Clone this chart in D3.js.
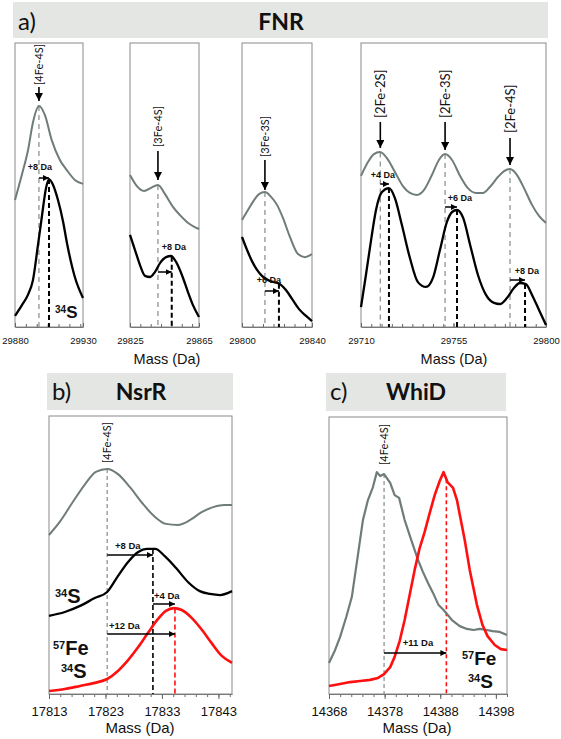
<!DOCTYPE html>
<html><head><meta charset="utf-8">
<script src="https://cdn.jsdelivr.net/npm/d3@7"></script>
<style>body{margin:0;background:#fff}svg{display:block}</style>
</head><body>
<svg id="chart" width="561" height="739"></svg>
<script>
// ================= DATA =================
// a) FNR, sub-panel 1
const fnr1Ticks = [29880, 29930];
const fnr1Gray = [[29880,44.7],[29885,53.5],[29889.6,62.3],[29893.2,72],[29897.6,77.8],[29902,74.6],[29907,65.8],[29913,58.8],[29918,55.3],[29924,51.8],[29930,50.4]];
const fnr1Black = [[29880,3.9],[29885.1,7.7],[29889.5,11.3],[29893.2,16.5],[29896.9,28.9],[29899.9,39.4],[29902.8,48.9],[29905,52.1],[29908,50],[29911.6,44.7],[29915.4,37],[29918.2,29.6],[29924,17.6],[29930,10.2]];
const fnr1Sites = ["[4Fe-4S]"];
const fnr1GrayPeaks = [29897.6];
const fnr1BlackPeaks = [29905];
const fnr1Shifts = ["+8 Da"];
// a) FNR, sub-panel 2
const fnr2Ticks = [29825, 29865];
const fnr2Gray = [[29825,53.5],[29829,49.6],[29833.1,47.9],[29837.2,49],[29841.2,50],[29845.3,46.8],[29849.9,42.3],[29854,39.4],[29858,37],[29865,34.5]];
const fnr2Black = [[29825,32.4],[29827.9,27.1],[29830.8,21.8],[29833.7,18],[29836.6,17.6],[29839.5,19.4],[29842.4,22.5],[29845.9,24.6],[29848.8,25],[29851.7,22.9],[29855.1,18.3],[29858.6,12.3],[29861.5,7.7],[29865,3.5]];
const fnr2Sites = ["[3Fe-4S]"];
const fnr2GrayPeaks = [29841.2];
const fnr2BlackPeaks = [29849.2];
const fnr2Shifts = ["+8 Da"];
// a) FNR, sub-panel 3
const fnr3Ticks = [29800, 29840];
const fnr3Gray = [[29800,37.7],[29803.4,41.2],[29806.9,44.7],[29809.7,46.8],[29813.1,47.5],[29816.6,45.8],[29820,43],[29823.4,38.4],[29827.4,31.7],[29832,25.7],[29836,24.6],[29840,25.7]];
const fnr3Black = [[29800,31.7],[29802.9,27.1],[29805.7,23.2],[29808.6,20.1],[29811.4,18],[29814.9,16.5],[29818.3,15.8],[29821.7,15.1],[29825.1,13],[29828.6,9.9],[29832.6,6.3],[29836.6,3.9],[29840,2.1]];
const fnr3Sites = ["[3Fe-3S]"];
const fnr3GrayPeaks = [29813.1];
const fnr3BlackPeaks = [29821.1];
const fnr3Shifts = ["+6 Da"];
// a) FNR, sub-panel 4
const fnr4Ticks = [29710, 29755, 29800];
const fnr4Gray = [[29710,53.2],[29713.4,58.1],[29716.3,60.9],[29719.2,61.6],[29722.6,59.5],[29726.5,54.6],[29730.4,49.6],[29733.8,47.2],[29737.2,46.5],[29740.6,48.2],[29744.5,53.5],[29747.9,58.8],[29750.9,60.9],[29754.3,58.8],[29758.2,53.2],[29762,48.9],[29765.9,47.2],[29769.3,47.2],[29772.7,49.3],[29776.6,52.8],[29779.6,54.9],[29782.5,55.6],[29785.9,53.5],[29789.3,48.9],[29793.2,43],[29796.6,39.1],[29800,36.6]];
const fnr4Black = [[29710,7],[29712.4,18.3],[29714.9,30.6],[29717.3,41.2],[29720.2,47.5],[29723.6,48.9],[29726.5,45.4],[29729.9,35.9],[29733.8,24.3],[29737.7,15.8],[29741.6,14.1],[29745,17.3],[29748.4,27.1],[29751.8,37],[29754.3,40.5],[29756.7,41.2],[29759.7,38.4],[29763.1,28.9],[29766.9,18.3],[29770.8,11.3],[29774.7,8.5],[29777.6,8.1],[29781,10.2],[29784.4,13.7],[29787.3,15.5],[29790.2,15.1],[29793.2,11.3],[29796.6,6],[29800,0.7]];
const fnr4Sites = ["[2Fe-2S]", "[2Fe-3S]", "[2Fe-4S]"];
const fnr4GrayPeaks = [29719.4, 29750.9, 29782.5];
const fnr4BlackPeaks = [29723.6, 29756.7, 29789.8];
const fnr4Shifts = ["+4 Da", "+6 Da", "+8 Da"];
// b) NsrR
const nsrTicks = [17813, 17823, 17833, 17843];
const nsrGray = [[17813,57.2],[17814.9,61.9],[17817.1,68.7],[17819.4,75.5],[17821.3,79.9],[17823.3,80.9],[17825.2,79.1],[17827.3,74.5],[17829.5,68.7],[17831.6,64],[17833.7,61.2],[17835.8,60.8],[17838,62.6],[17840.1,65.5],[17842.2,67.3],[17844,68],[17845.4,68]];
const nsrBlack = [[17813,28.1],[17815.8,29.5],[17818.5,31.7],[17821.1,34.5],[17823.3,36.7],[17825.2,42.4],[17827,47.5],[17828.8,51.1],[17830.3,52.2],[17831.8,52.2],[17833.5,49.6],[17835.5,45.3],[17837.6,40.3],[17839.7,37],[17841.5,36],[17843.3,35.6],[17845.4,37]];
const nsrRed = [[17813,1.1],[17815.8,1.8],[17818.5,2.9],[17821.1,4],[17823.3,5.4],[17825.2,8.3],[17827,12.2],[17828.8,16.9],[17830.5,21.9],[17832.3,27],[17833.7,29.9],[17835.1,30.9],[17836.5,30.2],[17838.3,27.3],[17840.1,23],[17841.8,18.3],[17843.6,13.7],[17845.4,11.2]];
const nsrSite = "[4Fe-4S]";
const nsrPeaks = [17823.3, 17831.4, 17835.3];
const nsrShifts = ["+8 Da", "+4 Da", "+12 Da"];
// c) WhiD
const whiTicks = [14368, 14378, 14388, 14398];
const whiGray = [[14368,11.2],[14369.1,15.9],[14370,20.6],[14371.1,27.8],[14372.1,35],[14373.2,50.2],[14374.1,62.8],[14375,70],[14375.9,74.7],[14376.6,80.1],[14377.2,78.7],[14377.9,79.4],[14379,76.2],[14379.8,71.8],[14380.6,70.8],[14381.6,62.8],[14382.9,54.9],[14384,48.4],[14384.9,44],[14385.8,40.1],[14386.7,36.5],[14387.7,32.1],[14388.6,30.3],[14390.1,26.7],[14391.5,24.5],[14392.8,23.5],[14394,23.1],[14395.1,23.5],[14396.4,23.1],[14397.4,22.7],[14398.7,22.4],[14400,21.3]];
const whiRed = [[14368,2.9],[14370,3.6],[14371.8,4.3],[14373.6,4.7],[14375.4,5.1],[14376.8,5.8],[14377.9,7.2],[14379,9.7],[14379.8,13.4],[14380.7,19.1],[14381.6,26.7],[14382.5,35.7],[14383.4,44.8],[14384.3,52.7],[14385.2,58.5],[14386.1,65.3],[14387,71.8],[14387.9,76.9],[14388.6,80.1],[14389.3,76.5],[14390.3,74.4],[14391,70],[14391.7,62.8],[14392.4,55.6],[14393.3,44.8],[14394.6,32.1],[14395.6,24.9],[14396.5,20.9],[14397.8,17.7],[14398.9,16.2],[14400,15.9]];
const whiSite = "[4Fe-4S]";
const whiPeaks = [14377.9, 14389.1];
const whiShift = "+11 Da";
const headers = ["a)", "FNR", "b)", "NsrR", "c)", "WhiD"];
const axisTitle = "Mass (Da)";

// ================= DRAWING =================
const svg = d3.select("#chart");
const GRAY = "#6f7c79", GRAYDASH = "#8d9593", RED = "#ff1010", FRAME = "#8a8a8a";
const SANS = "Arial, 'Liberation Sans', sans-serif";
const CAL = "Lato, 'Open Sans', sans-serif";

const defs = svg.append("defs");
defs.append("marker").attr("id","ah").attr("viewBox","0 0 10 10").attr("refX",10).attr("refY",5)
  .attr("markerWidth",6).attr("markerHeight",6).attr("markerUnits","userSpaceOnUse").attr("orient","auto")
  .append("path").attr("d","M0,0L10,5L0,10z").attr("fill","#000");
defs.append("marker").attr("id","ahv").attr("viewBox","0 0 10 10").attr("refX",10).attr("refY",5)
  .attr("markerWidth",8).attr("markerHeight",8).attr("markerUnits","userSpaceOnUse").attr("orient","auto")
  .append("path").attr("d","M0,0L10,5L0,10z").attr("fill","#000");

function interp(data, m){
  for(let i=0;i<data.length-1;i++){
    const a=data[i], b=data[i+1];
    if(m>=a[0] && m<=b[0]) return a[1]+(b[1]-a[1])*(m-a[0])/(b[0]-a[0]);
  }
  return data[data.length-1][1];
}

function header(x0,x1,y0,y1,lab,title,labX,titleX,base){
  svg.append("rect").attr("x",x0).attr("y",y0).attr("width",x1-x0).attr("height",y1-y0).attr("fill","#e4e6e4");
  svg.append("text").attr("x",labX).attr("y",base).attr("font-family",CAL).attr("font-size",24).attr("fill","#111").text(lab);
  svg.append("text").attr("x",titleX).attr("y",base).attr("text-anchor","middle").attr("font-family",CAL).attr("font-weight","bold").attr("font-size",23).attr("fill","#111").text(title);
}

function frame(L, ticks, minorStep, inward, tickFont, pad){
  const x = d3.scaleLinear().domain(L.domain).range([L.x0,L.x1]);
  const y = d3.scaleLinear().domain([0,100]).range([L.y1,L.y0]);
  svg.append("rect").attr("x",L.x0).attr("y",L.y0).attr("width",L.x1-L.x0).attr("height",L.y1-L.y0)
    .attr("fill","none").attr("stroke",FRAME).attr("stroke-width",1);
  const minor = d3.range(L.domain[0], L.domain[1]+0.001, minorStep);
  const gm = svg.append("g").attr("transform",`translate(0,${L.y1})`)
    .call(d3.axisBottom(x).tickValues(minor).tickFormat("").tickSize(inward?-3:3).tickSizeOuter(0));
  gm.select(".domain").remove();
  gm.selectAll("line").attr("stroke","#666");
  const ga = svg.append("g").attr("transform",`translate(0,${L.y1})`)
    .call(d3.axisBottom(x).tickValues(ticks).tickFormat(d3.format("d")).tickSize(inward?-4:5).tickSizeOuter(0).tickPadding(pad));
  ga.select(".domain").attr("stroke","#777");
  ga.selectAll("line").attr("stroke","#666");
  ga.selectAll("text").attr("font-family",SANS).attr("font-size",tickFont).attr("fill","#111");
  return {x,y};
}

function curve(s, data, color, w, smooth){
  const line = d3.line().x(d=>s.x(d[0])).y(d=>s.y(d[1])).curve(smooth?d3.curveMonotoneX:d3.curveLinear);
  svg.append("path").datum(data).attr("d",line).attr("fill","none").attr("stroke",color)
    .attr("stroke-width",w).attr("stroke-linejoin","round");
}

function vdash(s, m, data, yBottom, color, w, dash){
  svg.append("line").attr("x1",s.x(m)).attr("x2",s.x(m)).attr("y1",s.y(interp(data,m))).attr("y2",yBottom)
    .attr("stroke",color).attr("stroke-width",w).attr("stroke-dasharray",dash);
}

function rotLabel(x, yBottom, txt, size){
  svg.append("text").attr("transform",`translate(${x+size*0.36},${yBottom}) rotate(-90)`)
    .attr("font-family",CAL).attr("font-size",size).attr("fill","#111").text(txt);
}

function vArrow(x, y1, y2){
  svg.append("line").attr("x1",x).attr("x2",x).attr("y1",y1).attr("y2",y2).attr("stroke","#000").attr("stroke-width",1.6).attr("marker-end","url(#ahv)");
}

function hArrow(x1, x2, y){
  svg.append("line").attr("x1",x1).attr("x2",x2).attr("y1",y).attr("y2",y).attr("stroke","#000").attr("stroke-width",1.5).attr("marker-end","url(#ah)");
}

function shiftText(x, y, txt, anchor, size){
  svg.append("text").attr("x",x).attr("y",y).attr("text-anchor",anchor||"middle").attr("font-family",SANS)
    .attr("font-weight","bold").attr("font-size",size||9).attr("fill","#111").text(txt);
}

function iso(x, y, sup, main, supSize, mainSize){
  const t = svg.append("text").attr("x",x).attr("y",y).attr("font-family",SANS).attr("font-weight","bold").attr("fill","#111");
  t.append("tspan").attr("font-size",supSize).attr("dy",-mainSize*0.3).text(sup);
  t.append("tspan").attr("font-size",mainSize).attr("dy",mainSize*0.3).text(main);
}

// ---------- Panel a ----------
header(13,548,2,38,headers[0],headers[1],18,281,30);

const aSubs = [
  {L:{x0:15,x1:83,y0:43,y1:327,domain:[29880,29930]}, ticks:fnr1Ticks, step:8, gray:fnr1Gray, black:fnr1Black,
   sites:fnr1Sites, gp:fnr1GrayPeaks, bp:fnr1BlackPeaks, shifts:fnr1Shifts,
   lab:[{b:85,a1:87,a2:101,fs:11}], sh:[{tx:40,ty:170,ay:178}]},
  {L:{x0:130,x1:199,y0:43,y1:327,domain:[29825,29865]}, ticks:fnr2Ticks, step:6, gray:fnr2Gray, black:fnr2Black,
   sites:fnr2Sites, gp:fnr2GrayPeaks, bp:fnr2BlackPeaks, shifts:fnr2Shifts,
   lab:[{b:147,a1:151,a2:180,fs:11}], sh:[{tx:174,ty:250,ay:272}]},
  {L:{x0:242,x1:312,y0:43,y1:327,domain:[29800,29840]}, ticks:fnr3Ticks, step:6, gray:fnr3Gray, black:fnr3Black,
   sites:fnr3Sites, gp:fnr3GrayPeaks, bp:fnr3BlackPeaks, shifts:fnr3Shifts,
   lab:[{b:157,a1:160,a2:190,fs:11}], sh:[{tx:269,ty:283,ay:291}]},
  {L:{x0:361,x1:546,y0:43,y1:327,domain:[29710,29800]}, ticks:fnr4Ticks, step:5, gray:fnr4Gray, black:fnr4Black,
   sites:fnr4Sites, gp:fnr4GrayPeaks, bp:fnr4BlackPeaks, shifts:fnr4Shifts,
   lab:[{b:118,a1:122,a2:148,fs:13},{b:118,a1:122,a2:150,fs:13},{b:133,a1:138,a2:165,fs:13}],
   sh:[{tx:383,ty:178,ay:184},{tx:460,ty:201,ay:207},{tx:527,ty:274,ay:280}]}
];

aSubs.forEach(p=>{
  const s = frame(p.L, p.ticks, p.step, true, 9.5, 10);
  p.gp.forEach(m=>vdash(s, m, p.gray, p.L.y1, GRAYDASH, 1.3, "5,4"));
  p.bp.forEach(m=>vdash(s, m, p.black, p.L.y1, "#000", 2, "5,3"));
  curve(s, p.gray, GRAY, 2, true);
  curve(s, p.black, "#000", 2.3, true);
  p.sites.forEach((t,i)=>{
    const gx = s.x(p.gp[i]);
    rotLabel(gx, p.lab[i].b, t, p.lab[i].fs);
    vArrow(gx, p.lab[i].a1, p.lab[i].a2);
  });
  p.shifts.forEach((t,i)=>{
    shiftText(p.sh[i].tx, p.sh[i].ty, t);
    hArrow(s.x(p.gp[i]), s.x(p.bp[i]), p.sh[i].ay);
  });
});
iso(55, 318, "34", "S", 10, 17);
svg.append("text").attr("x",167).attr("y",364).attr("text-anchor","middle").attr("font-family",SANS).attr("font-size",14.5).attr("fill","#111").text(axisTitle);
svg.append("text").attr("x",454).attr("y",364).attr("text-anchor","middle").attr("font-family",SANS).attr("font-size",14.5).attr("fill","#111").text(axisTitle);

// ---------- Panel b ----------
header(47,233,373,410,headers[2],headers[3],52,141,400);
{
  const L = {x0:49,x1:232,y0:416,y1:694,domain:[17813,17845.4]};
  const s = frame(L, nsrTicks, 2, false, 13, 7.5);
  vdash(s, nsrPeaks[0], nsrGray, L.y1, GRAYDASH, 1.3, "4,3");
  vdash(s, nsrPeaks[1], nsrBlack, L.y1, "#000", 1.6, "5,3");
  vdash(s, nsrPeaks[2], nsrRed, L.y1, RED, 1.6, "5,3");
  curve(s, nsrGray, GRAY, 2, true);
  curve(s, nsrBlack, "#000", 2.3, true);
  curve(s, nsrRed, RED, 2.6, true);
  rotLabel(s.x(nsrPeaks[0]), 463, nsrSite, 11);
  shiftText(115, 549, nsrShifts[0], "start", 9.5);
  hArrow(s.x(nsrPeaks[0]), s.x(nsrPeaks[1]), 555);
  shiftText(154, 599, nsrShifts[1], "start", 9.5);
  hArrow(s.x(nsrPeaks[1]), s.x(nsrPeaks[2]), 604);
  shiftText(109, 629, nsrShifts[2], "start", 9.5);
  hArrow(s.x(nsrPeaks[0]), s.x(nsrPeaks[2]), 634);
  iso(55, 603, "34", "S", 11, 20);
  iso(53, 655, "57", "Fe", 11, 20);
  iso(61, 678, "34", "S", 11, 20);
  svg.append("text").attr("x",140).attr("y",733).attr("text-anchor","middle").attr("font-family",SANS).attr("font-size",15).attr("fill","#111").text(axisTitle);
}

// ---------- Panel c ----------
header(326,506,373,411,headers[4],headers[5],330,416,400);
{
  const L = {x0:329,x1:507,y0:417,y1:694,domain:[14368,14400]};
  const s = frame(L, whiTicks, 2, false, 13, 7.5);
  vdash(s, whiPeaks[0], whiGray, L.y1, GRAYDASH, 1.3, "4,3");
  vdash(s, whiPeaks[1], whiRed, L.y1, RED, 1.6, "4,3");
  curve(s, whiGray, GRAY, 2.2, false);
  curve(s, whiRed, RED, 2.6, false);
  rotLabel(s.x(whiPeaks[0]), 465, whiSite, 11);
  shiftText(418, 646, whiShift, "middle", 9.5);
  hArrow(s.x(whiPeaks[0]), s.x(whiPeaks[1]), 653);
  iso(462, 665, "57", "Fe", 11, 19);
  iso(468, 688, "34", "S", 11, 19);
  svg.append("text").attr("x",417).attr("y",733).attr("text-anchor","middle").attr("font-family",SANS).attr("font-size",15).attr("fill","#111").text(axisTitle);
}
</script>
</body></html>
